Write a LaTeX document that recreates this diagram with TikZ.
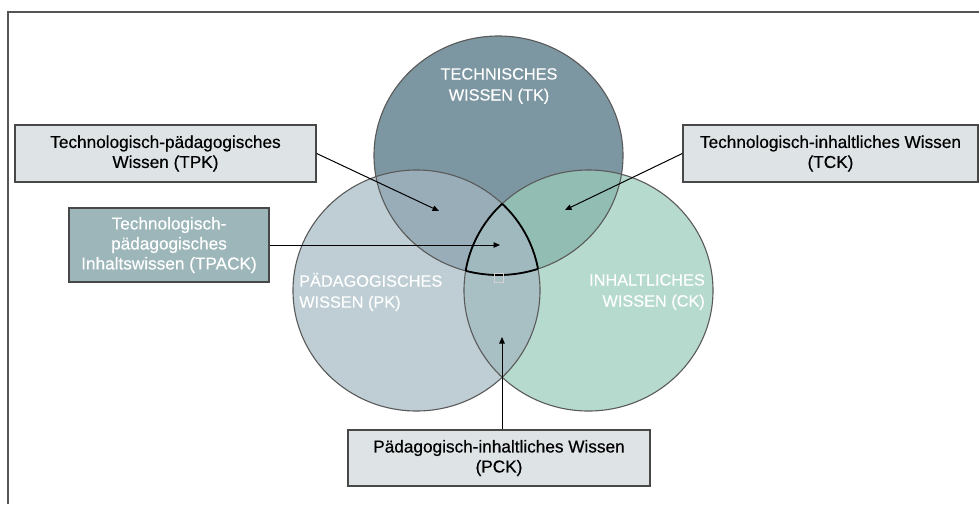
\documentclass[tikz,border=0pt]{standalone}
\usepackage{fontspec}
\setmainfont{Liberation Sans}
\newfontfamily\medfont[FakeBold=0.45]{Liberation Sans}
\newfontfamily\lightmed[FakeBold=0.25]{Liberation Sans}
\usetikzlibrary{arrows.meta}
\definecolor{tkc}{HTML}{7C96A2}
\definecolor{pkc}{HTML}{BECED4}
\definecolor{ckc}{HTML}{B7DACF}
\definecolor{tpc}{HTML}{98ADB8}
\definecolor{tcc}{HTML}{91BDB2}
\definecolor{pcc}{HTML}{A8C0C4}
\definecolor{trc}{HTML}{A0B9BE}
\definecolor{lbox}{HTML}{DEE4E6}
\definecolor{dbox}{HTML}{9DB6BA}
\definecolor{rim}{HTML}{5A5A5A}
\definecolor{frame}{HTML}{555555}
\begin{document}
\begin{tikzpicture}[x=1pt,y=-1pt,
  circ/.style={draw=rim,line width=1.1pt},
  tri/.style={draw=black,line width=1.8pt},
  box/.style={draw=rim!80!black,line width=1.4pt,align=center,inner sep=0pt,
    font=\medfont\fontsize{17.2}{20}\selectfont},
  lightbox/.style={box,fill=lbox,text=black},
  darkbox/.style={box,fill=dbox,text=white},
  clab/.style={text=white,inner sep=0pt,font=\lightmed\fontsize{16.3}{21}\selectfont},
  arr/.style={draw=black,line width=1pt,-{Triangle[length=6.5pt,width=5.5pt]}}]
\useasboundingbox (0,0) rectangle (979,504);
\fill[white] (0,0) rectangle (979,504);
\draw[frame,line width=1.5pt] (979,12) -- (8,12) -- (8,504);
\def\TK{(498.5,155.5) ellipse [x radius=124.5pt, y radius=119.5pt]}
\def\PK{(416.5,290.5) ellipse [x radius=123.5pt, y radius=120.5pt]}
\def\CK{(588.5,290.5) ellipse [x radius=124.5pt, y radius=120.5pt]}
\fill[tkc] \TK;
\fill[pkc] \PK;
\fill[ckc] \CK;
\begin{scope}\clip \TK; \fill[tpc] \PK; \end{scope}
\begin{scope}\clip \TK; \fill[tcc] \CK; \end{scope}
\begin{scope}\clip \PK; \fill[pcc] \CK; \end{scope}
\begin{scope}\clip \TK; \clip \PK; \fill[trc] \CK; \end{scope}
\draw[circ] \TK;
\draw[circ] \PK;
\draw[circ] \CK;
\begin{scope}\clip \TK; \clip \PK; \draw[tri] \CK; \end{scope}
\begin{scope}\clip \TK; \clip \CK; \draw[tri] \PK; \end{scope}
\begin{scope}\clip \PK; \clip \CK; \draw[tri] \TK; \end{scope}
\node[draw=gray!35,line width=0.5pt,minimum size=9pt,inner sep=0pt] (sq) at (498.5,278) {};
% circle labels
\node[clab,align=center] (tk) at (499,86) {TECHNISCHES\\WISSEN (TK)};
\node[clab,align=left,anchor=west] (pk) at (299,292) {PÄDAGOGISCHES\\WISSEN (PK)};
\node[clab,align=right,anchor=east] (ck) at (705,292) {INHALTLICHES\\WISSEN (CK)};
% boxes
\node[lightbox,minimum width=301pt,minimum height=57pt] (tpk) at (165.5,153.5)
  {Technologisch-pädagogisches\\Wissen (TPK)};
\node[lightbox,minimum width=295pt,minimum height=57pt] (tck) at (830.5,153.5)
  {Technologisch-inhaltliches Wissen\\(TCK)};
\node[darkbox,minimum width=200pt,minimum height=74pt] (tpack) at (169,245)
  {Technologisch-\\pädagogisches\\Inhaltswissen (TPACK)};
\node[lightbox,minimum width=302pt,minimum height=56pt] (pck) at (499,458)
  {Pädagogisch-inhaltliches Wissen\\(PCK)};
% arrow targets
\coordinate (ptpk) at (439,211);
\coordinate (ptck) at (565,210);
\coordinate (ptpack) at (500,245);
\coordinate (ppck) at (502,337);
\draw[arr] (tpk.east) -- (ptpk);
\draw[arr] (tck.west) -- (ptck);
\draw[arr] (tpack.east) -- (ptpack);
\draw[arr] (pck.north -| ppck) -- (ppck);
\end{tikzpicture}
\end{document}
